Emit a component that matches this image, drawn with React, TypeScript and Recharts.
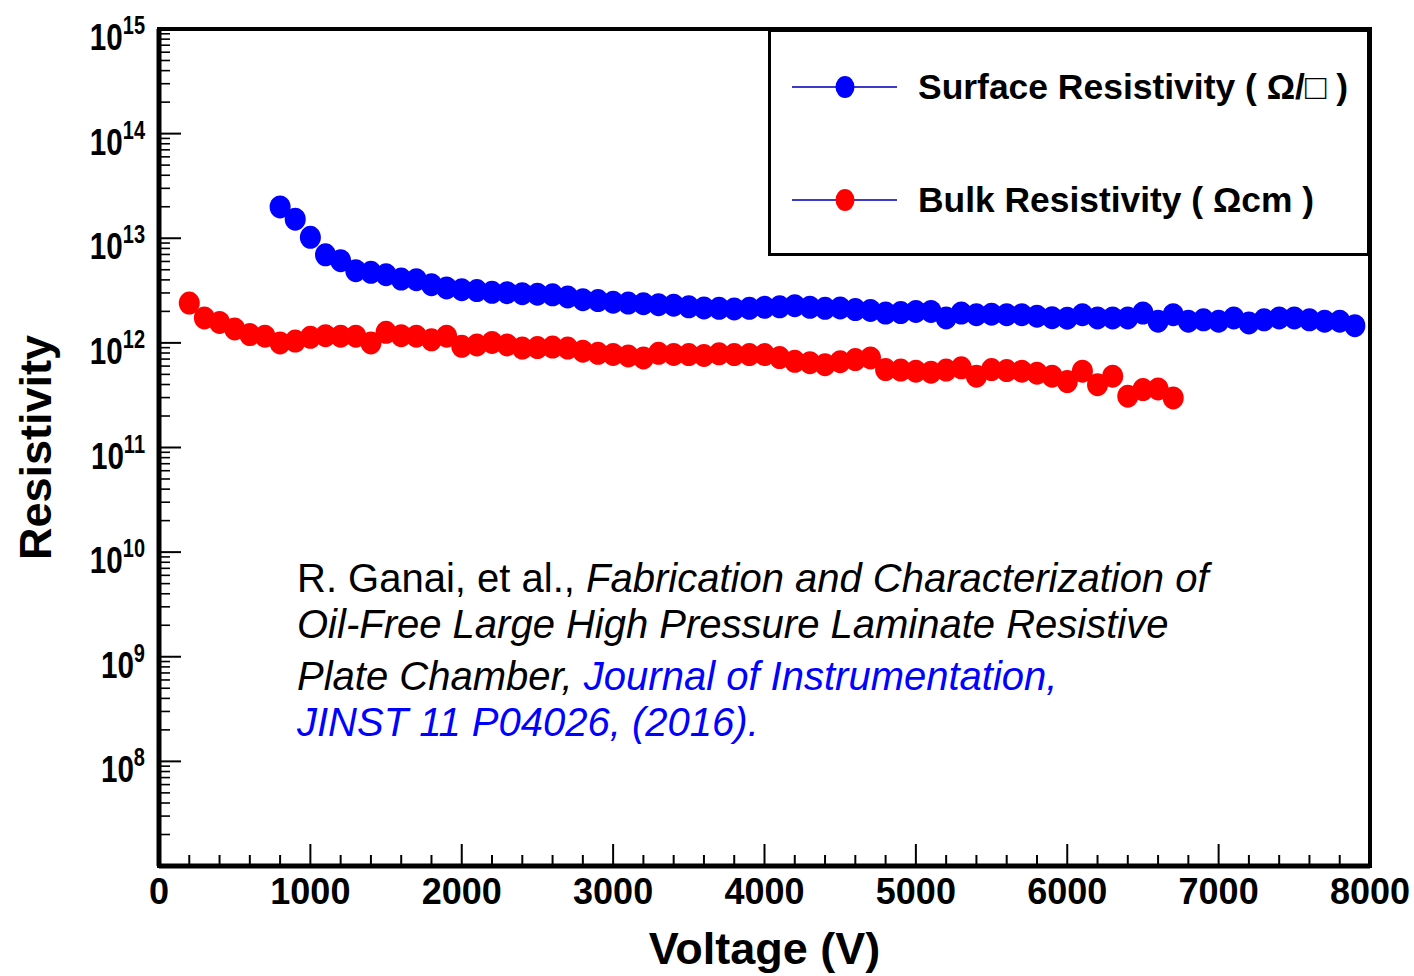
import { ScatterChart, Scatter, XAxis, YAxis, Legend, ReferenceArea } from "recharts";

// Surface resistivity (Ω/□) vs applied voltage
const surfaceVoltage = [
  800, 900, 1000, 1100, 1200, 1300, 1400, 1500, 1600, 1700, 1800, 1900,
  2000, 2100, 2200, 2300, 2400, 2500, 2600, 2700, 2800, 2900,
  3000, 3100, 3200, 3300, 3400, 3500, 3600, 3700, 3800, 3900,
  4000, 4100, 4200, 4300, 4400, 4500, 4600, 4700, 4800, 4900,
  5000, 5100, 5200, 5300, 5400, 5500, 5600, 5700, 5800, 5900,
  6000, 6100, 6200, 6300, 6400, 6500, 6600, 6700, 6800, 6900,
  7000, 7100, 7200, 7300, 7400, 7500, 7600, 7700, 7800, 7900,
];
const surfaceResistivity = [
  1.99e13, 1.52e13, 1.02e13, 6.95e12, 6.1e12, 4.9e12, 4.72e12, 4.49e12, 4.07e12, 4.02e12, 3.6e12, 3.35e12,
  3.22e12, 3.16e12, 3.04e12, 3.02e12, 2.95e12, 2.92e12, 2.88e12, 2.75e12, 2.59e12, 2.54e12,
  2.45e12, 2.4e12, 2.37e12, 2.32e12, 2.29e12, 2.21e12, 2.16e12, 2.14e12, 2.11e12, 2.14e12,
  2.19e12, 2.21e12, 2.27e12, 2.19e12, 2.14e12, 2.16e12, 2.08e12, 2.04e12, 1.93e12, 1.95e12,
  2.0e12, 2.0e12, 1.73e12, 1.93e12, 1.86e12, 1.88e12, 1.86e12, 1.86e12, 1.8e12, 1.74e12,
  1.72e12, 1.86e12, 1.73e12, 1.73e12, 1.73e12, 1.93e12, 1.61e12, 1.86e12, 1.61e12, 1.66e12,
  1.61e12, 1.73e12, 1.55e12, 1.66e12, 1.73e12, 1.73e12, 1.66e12, 1.61e12, 1.61e12, 1.46e12,
];

// Bulk resistivity (Ωcm) vs applied voltage
const bulkVoltage = [
  200, 300, 400, 500, 600, 700, 800, 900, 1000, 1100, 1200, 1300, 1400, 1500, 1600, 1700, 1800, 1900,
  2000, 2100, 2200, 2300, 2400, 2500, 2600, 2700, 2800, 2900,
  3000, 3100, 3200, 3300, 3400, 3500, 3600, 3700, 3800, 3900,
  4000, 4100, 4200, 4300, 4400, 4500, 4600, 4700, 4800, 4900,
  5000, 5100, 5200, 5300, 5400, 5500, 5600, 5700, 5800, 5900,
  6000, 6100, 6200, 6300, 6400, 6500, 6600, 6700,
];
const bulkResistivity = [
  2.4e12, 1.73e12, 1.57e12, 1.36e12, 1.2e12, 1.16e12, 9.98e11, 1.04e12, 1.13e12, 1.17e12, 1.16e12, 1.16e12,
  1.0e12, 1.26e12, 1.17e12, 1.16e12, 1.07e12, 1.16e12,
  9.27e11, 9.55e11, 1.01e12, 9.55e11, 8.91e11, 9.02e11, 9.12e11, 8.91e11, 8.32e11, 7.94e11,
  7.76e11, 7.5e11, 7.18e11, 7.94e11, 7.76e11, 7.73e11, 7.59e11, 7.85e11, 7.73e11, 7.73e11,
  7.73e11, 7.24e11, 6.67e11, 6.46e11, 6.19e11, 6.61e11, 6.92e11, 7.18e11, 5.56e11, 5.5e11,
  5.36e11, 5.25e11, 5.5e11, 5.77e11, 4.8e11, 5.56e11, 5.43e11, 5.36e11, 5.13e11, 4.8e11,
  4.27e11, 5.36e11, 3.98e11, 4.8e11, 3.09e11, 3.58e11, 3.63e11, 2.98e11,
];

const xTicks = [
  0, 200, 400, 600, 800, 1000, 1200, 1400, 1600, 1800, 2000, 2200, 2400, 2600, 2800, 3000,
  3200, 3400, 3600, 3800, 4000, 4200, 4400, 4600, 4800, 5000, 5200, 5400, 5600, 5800, 6000,
  6200, 6400, 6600, 6800, 7000, 7200, 7400, 7600, 7800, 8000,
];
const xMajorTicks = [0, 1000, 2000, 3000, 4000, 5000, 6000, 7000, 8000];
const yMajorTicks = [1e7, 1e8, 1e9, 1e10, 1e11, 1e12, 1e13, 1e14, 1e15];
const yMinorFactors = [1, 2, 3, 4, 5, 6, 7, 8, 9];
const yLabelExponents = [8, 9, 10, 11, 12, 13, 14, 15];

const legendItems = [
  { label: "Surface Resistivity ( Ω/□ )", color: "#0000ff", textWidth: 430 },
  { label: "Bulk Resistivity ( Ωcm )", color: "#ff0000", textWidth: 396 },
];

const FONT = "'Liberation Sans', Arial, Helvetica, sans-serif";

const yTicks = [
  ...yMajorTicks.slice(0, -1).flatMap((decade) => yMinorFactors.map((k) => k * decade)),
  1e15,
];

const surfaceData = surfaceVoltage.map((voltage, i) => ({ voltage, resistivity: surfaceResistivity[i] }));
const bulkData = bulkVoltage.map((voltage, i) => ({ voltage, resistivity: bulkResistivity[i] }));

function markerShape(color: string) {
  return (props: any) => <ellipse cx={props.cx} cy={props.cy} rx={10.5} ry={11.5} fill={color} />;
}

function renderXTick(props: any) {
  const { x, y, payload } = props;
  const major = xMajorTicks.includes(payload.value);
  return (
    <g>
      <line x1={x} x2={x} y1={y} y2={y - (major ? 22 : 11)} stroke="#000" strokeWidth={2} />
      {major && (
        <text x={x} y={y + 38} textAnchor="middle" fontFamily={FONT} fontSize={36} fontWeight="bold" fill="#000">
          {payload.value}
        </text>
      )}
    </g>
  );
}

function renderYTick(props: any) {
  const { x, y, payload } = props;
  const major = yMajorTicks.includes(payload.value);
  const exponent = Math.round(Math.log10(payload.value));
  const labelled = major && yLabelExponents.includes(exponent);
  return (
    <g>
      <line x1={x} x2={x + (major ? 22 : 11)} y1={y} y2={y} stroke="#000" strokeWidth={major ? 2 : 1.6} />
      {labelled && (
        <g transform={`translate(${x - 14}, ${y + 21}) scale(0.8, 1)`}>
          <text x={0} y={0} textAnchor="end" fontFamily={FONT} fontSize={37} fontWeight="bold" fill="#000">
            10
            <tspan dy={-16} fontSize={25}>
              {exponent}
            </tspan>
          </text>
        </g>
      )}
    </g>
  );
}

function renderLegend() {
  return (
    <svg width={602} height={227} style={{ display: "block" }}>
      <rect x={1.5} y={1.5} width={599} height={224} fill="#fff" stroke="#000" strokeWidth={3} />
      {legendItems.map((item, i) => {
        const cy = 58 + i * 113;
        return (
          <g key={item.label}>
            <line x1={24} x2={129} y1={cy} y2={cy} stroke="#3c3cc8" strokeWidth={2} />
            <ellipse cx={77} cy={cy} rx={9.5} ry={11} fill={item.color} />
            <text
              x={150}
              y={cy + 12}
              fontFamily={FONT}
              fontSize={35}
              fontWeight="bold"
              fill="#000"
              textLength={item.textWidth}
              lengthAdjust="spacingAndGlyphs"
            >
              {item.label}
            </text>
          </g>
        );
      })}
    </svg>
  );
}

export default function App() {
  return (
    <div style={{ position: "absolute", left: 0, top: 0, width: 1414, height: 976, background: "#fff" }}>
      <ScatterChart width={1414} height={976} margin={{ top: 29, right: 44, left: 0, bottom: 0 }}>
        <XAxis
          type="number"
          dataKey="voltage"
          domain={[0, 8000]}
          ticks={xTicks}
          interval={0}
          height={110}
          tickSize={0}
          tickMargin={0}
          tickLine={false}
          tick={renderXTick}
          axisLine={{ stroke: "#000", strokeWidth: 5 }}
          allowDataOverflow
          label={{
            value: "Voltage (V)",
            position: "insideBottom",
            offset: 12,
            style: { fill: "#000", fontSize: 45, fontWeight: "bold", fontFamily: FONT },
          }}
        />
        <YAxis
          type="number"
          dataKey="resistivity"
          scale="log"
          domain={[1e7, 1e15]}
          ticks={yTicks}
          interval={0}
          width={159}
          tickSize={0}
          tickMargin={0}
          tickLine={false}
          tick={renderYTick}
          axisLine={{ stroke: "#000", strokeWidth: 5 }}
          allowDataOverflow
          label={{
            value: "Resistivity",
            angle: -90,
            position: "insideLeft",
            offset: 35,
            style: { fill: "#000", fontSize: 45, fontWeight: "bold", fontFamily: FONT, textAnchor: "middle" },
          }}
        />
        <ReferenceArea x1={0} x2={8000} y1={1e7} y2={1e15} fill="none" stroke="#000" strokeWidth={4} ifOverflow="visible" />
        <Scatter name="Bulk Resistivity" data={bulkData} fill="#ff0000" shape={markerShape("#ff0000")} isAnimationActive={false} />
        <Scatter name="Surface Resistivity" data={surfaceData} fill="#0000ff" shape={markerShape("#0000ff")} isAnimationActive={false} />
        <Legend
          layout="vertical"
          align="center"
          verticalAlign="middle"
          content={renderLegend}
          wrapperStyle={{ position: "absolute", left: 768, top: 29, width: 602, height: 227 }}
        />
      </ScatterChart>
      <svg width={1414} height={976} style={{ position: "absolute", left: 0, top: 0, pointerEvents: "none" }}>
        <g fontFamily={FONT} fontSize={40} fill="#000">
          <text x={297} y={592}>
            R. Ganai, et al., <tspan fontStyle="italic">Fabrication and Characterization of</tspan>
          </text>
          <text x={297} y={638} fontStyle="italic">
            Oil-Free Large High Pressure Laminate Resistive
          </text>
          <text x={297} y={690} fontStyle="italic">
            Plate Chamber, <tspan fill="#0000ff">Journal of Instrumentation,</tspan>
          </text>
          <text x={297} y={736} fontStyle="italic" fill="#0000ff">
            JINST 11 P04026, (2016).
          </text>
        </g>
      </svg>
    </div>
  );
}
